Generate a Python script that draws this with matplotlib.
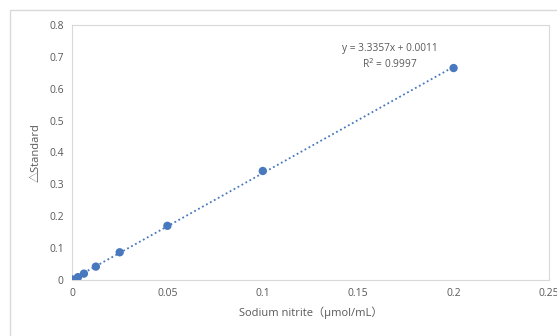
import numpy as np
import matplotlib.pyplot as plt
from matplotlib.patches import Rectangle

# concentrations (umol/mL) and measured delta
conc = [0, 0.003125, 0.00625, 0.0125, 0.025, 0.05, 0.1, 0.2]
delta = [0.002, 0.009, 0.020, 0.042, 0.087, 0.170, 0.342, 0.665]
x_ticks = [0, 0.05, 0.1, 0.15, 0.2, 0.25]
x_tick_labels = ["0", "0.05", "0.1", "0.15", "0.2", "0.25"]
y_ticks = [0, 0.1, 0.2, 0.3, 0.4, 0.5, 0.6, 0.7, 0.8]
y_tick_labels = ["0", "0.1", "0.2", "0.3", "0.4", "0.5", "0.6", "0.7", "0.8"]
eq_text = "y = 3.3357x + 0.0011\nR$^2$ = 0.9997"

fonts = ["Open Sans", "Noto Sans CJK SC", "DejaVu Sans"]
plt.rcParams["font.family"] = fonts
blue = "#4878BE"
grey = "#595959"
border = "#D9D9D9"

fig = plt.figure(figsize=(5.57, 3.36), dpi=100)
fig.patches.append(Rectangle((10 / 557, -0.1), 1.2, 1 - 10 / 336 + 0.1,
                             transform=fig.transFigure, fill=False,
                             edgecolor=border, linewidth=1.0))

ax = fig.add_axes([72 / 557, 1 - 280 / 336, 477 / 557, 255 / 336])

# linear trendline
k, b = np.polyfit(conc, delta, 1)
xs = np.array([min(conc), max(conc)])
ax.plot(xs, k * xs + b, linestyle=(0, (1, 1.5)), color=blue, linewidth=1.3)
ax.scatter(conc, delta, s=36, color=blue, zorder=3, edgecolors="none")

ax.set_xlim(0, 0.25)
ax.set_ylim(0, 0.8)
ax.set_xticks(x_ticks)
ax.set_xticklabels(x_tick_labels)
ax.set_yticks(y_ticks)
ax.set_yticklabels(y_tick_labels)
ax.tick_params(length=0, labelsize=7.5, labelcolor=grey, pad=6)
for sp in ax.spines.values():
    sp.set_color(border)
    sp.set_linewidth(0.8)

ax.set_xlabel("Sodium nitrite（μmol/mL）", fontsize=8, color=grey, labelpad=5)
ax.set_ylabel("△Standard", fontsize=8, color=grey, labelpad=5)

ax.text(0.1665, 0.7, eq_text, fontsize=7.3, color=grey, ha="center", va="center",
        linespacing=1.3)

fig.savefig("out.png", dpi=100)
